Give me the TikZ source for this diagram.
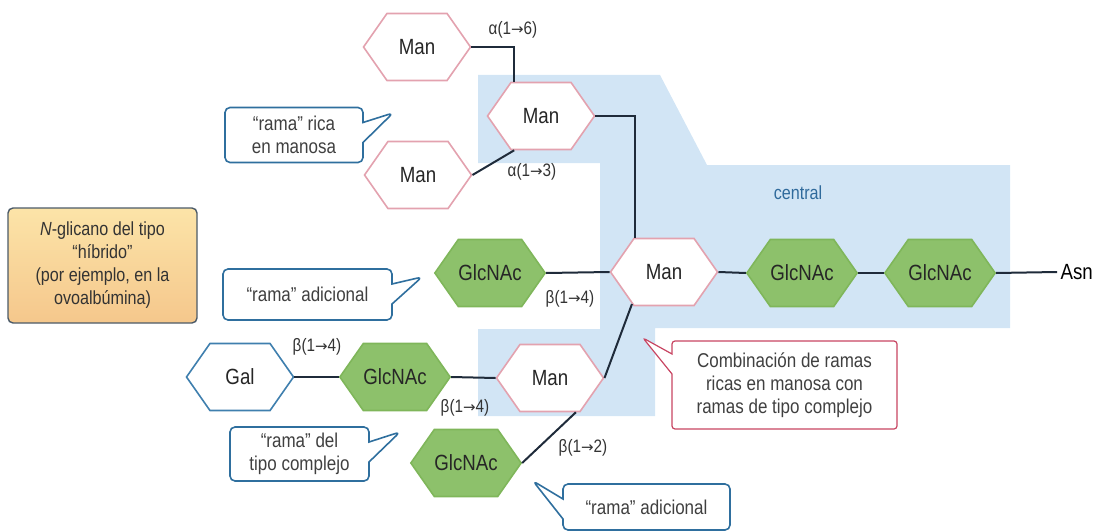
\documentclass[tikz,border=0pt]{standalone}
\usepackage{fontspec}
\setmainfont{Liberation Sans}[FakeStretch=0.85]
\newfontfamily\arrfont{DejaVu Sans}
\newcommand{\bto}{{\arrfont\fontsize{15}{18}\selectfont →}}
\usetikzlibrary{shapes.symbols,shapes.callouts}
\definecolor{manedge}{HTML}{E3A2AF}
\definecolor{glcfill}{HTML}{8DC16B}
\definecolor{glcedge}{HTML}{7FB65A}
\definecolor{galedge}{HTML}{3F7FAE}
\definecolor{linkcol}{HTML}{1F2B3A}
\definecolor{corebg}{HTML}{D2E5F5}
\definecolor{corelab}{HTML}{2F6A9C}
\definecolor{notecol}{HTML}{2F6F9E}
\definecolor{mixcol}{HTML}{C84562}
\definecolor{hybtop}{HTML}{FCE4A8}
\definecolor{hybbot}{HTML}{F5C78C}
\definecolor{hybedge}{HTML}{4B5A68}

\begin{document}
\begin{tikzpicture}[x=1pt, y=-1pt,
  sugar/.style={shape=signal, signal to=east and west, signal pointer angle=110,
                minimum width=107pt, minimum height=67pt, inner sep=0pt,
                line width=1.6pt, font=\fontsize{22}{24}\selectfont, text=black!85},
  man/.style={sugar, draw=manedge, fill=white},
  glc/.style={sugar, draw=glcedge, fill=glcfill},
  gal/.style={sugar, draw=galedge, fill=white},
  link/.style={draw=linkcol, line width=2pt},
  bond/.style={font=\fontsize{18}{20}\selectfont, text=black!80},
  note/.style={rectangle callout, draw=notecol, fill=white, line width=1.6pt,
               rounded corners=5pt, callout pointer width=20pt, align=center,
               inner sep=2pt, font=\fontsize{20}{23}\selectfont, text=black!75},
]
  \useasboundingbox (0,0) rectangle (1105,532);

  % core region
  \fill[corebg] (478,75) -- (660,75) -- (707,165) -- (1010,165) -- (1010,328)
    -- (655,328) -- (655,416) -- (478,416) -- (478,329) -- (600,329)
    -- (600,163) -- (478,163) -- cycle;
  \node[font=\fontsize{19}{21}\selectfont, text=corelab] (lcore) at (798,193) {central};

  % hybrid label
  \node[draw=hybedge, line width=1.4pt, rounded corners=5pt, top color=hybtop,
        bottom color=hybbot, minimum width=189pt, minimum height=115pt,
        align=center, inner sep=2pt, text=black!80,
        font=\fontsize{19}{23}\selectfont] (hyb) at (102.5,265.5)
    {\textit{N}-glicano del tipo\\“híbrido”\\(por ejemplo, en la\\ovoalbúmina)};

  % mannose-rich branch
  \node[man] (m1) at (417,47) {Man};
  \node[man] (m2) at (541,116) {Man};
  \node[man] (m3) at (418,175) {Man};

  % core chain
  \node[man] (mc) at (664,272) {Man};
  \node[glc] (g1) at (802,273) {GlcNAc};
  \node[glc] (g2) at (940,273) {GlcNAc};
  \node[font=\fontsize{22}{24}\selectfont, anchor=west] (asn) at (1057,272) {Asn};

  % complex branch
  \node[glc] (ga) at (490,273) {GlcNAc};
  \node[man] (ml) at (550,378) {Man};
  \node[glc] (gm) at (395,377) {GlcNAc};
  \node[gal] (gal) at (240,377) {Gal};
  \node[glc] (gb) at (466,463) {GlcNAc};

  % bonds
  \draw[link] (m1.east) -| (m2.128);
  \draw[link] (m3.east) -- (m2.232);
  \draw[link] (m2.east) -| (mc.131);
  \draw[link] (ga.east) -- (mc.west);
  \draw[link] (mc.east) -- (g1.west);
  \draw[link] (g1.east) -- (g2.west);
  \draw[link] (g2.east) -- (asn.west);
  \draw[link] (mc.225) -- (ml.east);
  \draw[link] (ml.307) -- (gb.east);
  \draw[link] (gm.east) -- (ml.west);
  \draw[link] (gal.east) -- (gm.west);

  \node[bond] (b16) at (513,30) {α(1\bto6)};
  \node[bond] (b13) at (532,172) {α(1\bto3)};
  \node[bond] (b14a) at (570,299) {β(1\bto4)};
  \node[bond] (b14b) at (317,347) {β(1\bto4)};
  \node[bond] (b14c) at (465,408) {β(1\bto4)};
  \node[bond] (b12) at (583,448) {β(1\bto2)};

  % callouts
  \node[note, minimum width=138pt, minimum height=55pt,
        callout absolute pointer={(393,113)}] (nrica) at (294,135)
    {“rama” rica\\en manosa};
  \node[note, minimum width=169pt, minimum height=51pt,
        callout absolute pointer={(422,277)}] (nadd1) at (307.5,294.5)
    {“rama” adicional};
  \node[note, minimum width=139pt, minimum height=54pt,
        callout absolute pointer={(400,432)}] (ncompl) at (299.5,454)
    {“rama” del\\tipo complejo};
  \node[note, minimum width=167pt, minimum height=46pt,
        callout absolute pointer={(533,481)}] (nadd2) at (646.5,507)
    {“rama” adicional};
  \node[note, draw=mixcol, line width=1.2pt, rounded corners=3pt,
        minimum width=225pt, minimum height=88pt,
        callout absolute pointer={(643,338)}] (nmix) at (784.5,385)
    {Combinación de ramas\\ricas en manosa con\\ramas de tipo complejo};
\end{tikzpicture}
\end{document}
